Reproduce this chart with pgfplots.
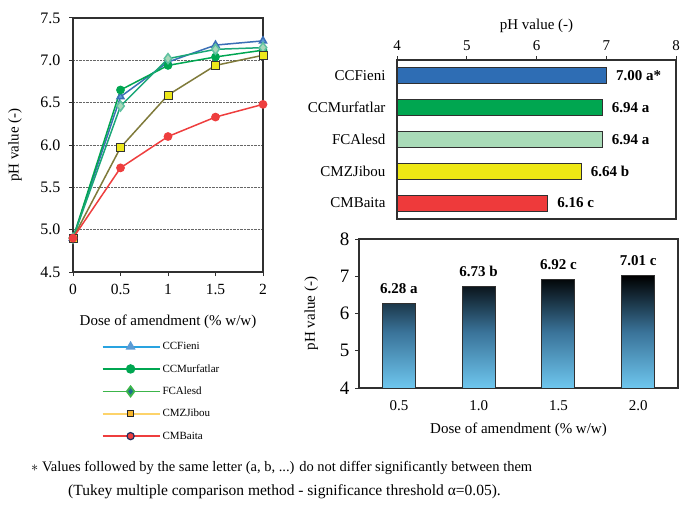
\documentclass[border=0pt]{standalone}
\usepackage{fontspec}
\setmainfont{Liberation Serif}
\usepackage{pgfplots}
\pgfplotsset{compat=1.18}
\usepackage{pgfplotstable}
\newcommand\fs[1]{\fontsize{#1}{#1}\selectfont}
\definecolor{fieni}{HTML}{3B6FB6}
\definecolor{fienim}{HTML}{5B9BD5}
\definecolor{murf}{HTML}{00A651}
\definecolor{alesdl}{HTML}{1AA777}
\definecolor{alesdm}{HTML}{A8D8B9}
\definecolor{jiboul}{HTML}{7F7A3A}
\definecolor{jiboum}{HTML}{EDE71A}
\definecolor{baita}{HTML}{EE3E3E}
\definecolor{legfieni}{HTML}{29A3E0}
\definecolor{legalesd}{HTML}{3CB54A}
\definecolor{legalesdm}{HTML}{1F6F8E}
\definecolor{legjibou}{HTML}{FDD36A}
\definecolor{legjiboum}{HTML}{F7B52A}
\definecolor{legbaitae}{HTML}{1F2F5F}
\definecolor{barblue}{HTML}{2E6DB4}
\definecolor{bargreen}{HTML}{00A650}
\definecolor{barlight}{HTML}{A9DBB8}
\definecolor{baryellow}{HTML}{EEE814}
\definecolor{barred}{HTML}{EE3A3B}
\definecolor{gradbottom}{HTML}{6EC6EE}
\definecolor{gradmid}{HTML}{3A7399}
\definecolor{frame}{HTML}{303030}

\pgfplotstableread[col sep=comma]{
x,ph,lab
0,6.28,6.28 a
1,6.73,6.73 b
2,6.92,6.92 c
3,7.01,7.01 c
}\dosetable

\begin{document}
\begin{tikzpicture}[x=1pt,y=1pt]
\useasboundingbox (0,0) rectangle (682,504);

% ---------------- left line chart ----------------
\begin{axis}[
  at={(73pt,232pt)}, anchor=south west, scale only axis,
  width=190pt, height=254pt,
  xmin=0, xmax=2, ymin=4.5, ymax=7.5,
  xtick={0,0.5,1,1.5,2}, xticklabels={0,0.5,1,1.5,2},
  ytick={4.5,5,5.5,6,6.5,7,7.5}, yticklabels={4.5,5.0,5.5,6.0,6.5,7.0,7.5},
  tick align=outside, tick pos=left, major tick length=4pt,
  ymajorgrids, grid style={densely dotted, black!60, line width=0.8pt},
  axis line style={line width=1.2pt, frame},
  tick style={line width=1pt, frame},
  xticklabel style={font=\fs{15.5}, yshift=-5pt},
  yticklabel style={font=\fs{16}, xshift=-5pt},
  /pgf/number format/assume math mode=true,
  xlabel={Dose of amendment (\% w/w)}, ylabel={pH value (-)},
  label style={font=\fs{15}},
  xlabel style={at={(axis description cs:0.5,-0.197)}, anchor=center},
  ylabel style={at={(axis description cs:-0.305,0.5)}, anchor=center},
  legend style={at={(0.15,-0.26)}, anchor=north west, draw=none, fill=none,
    font=\fs{11}, row sep=9.3pt, inner xsep=0pt, cells={anchor=west}},
  legend image code/.code={\draw[mark repeat=2,mark phase=2,#1] plot coordinates {(0pt,0pt) (28pt,0pt) (57pt,0pt)};},
  clip=false,
]
\addplot[forget plot, color=fieni, line width=1.5pt, mark=triangle*, mark size=4, mark options={fill=fienim, draw=fieni}]
  coordinates {(0,4.90) (0.5,6.57) (1,6.98) (1.5,7.18) (2,7.23)};
\addplot[forget plot, color=murf, line width=1.5pt, mark=*, mark size=3.6, mark options={fill=murf, draw=murf}]
  coordinates {(0,4.90) (0.5,6.65) (1,6.94) (1.5,7.04) (2,7.12)};
\addplot[forget plot, color=alesdl, line width=1.5pt, mark=diamond*, mark size=5, mark options={fill=alesdm, draw=alesdl!70}]
  coordinates {(0,4.90) (0.5,6.46) (1,7.02) (1.5,7.13) (2,7.15)};
\addplot[forget plot, color=jiboul, line width=1.5pt, mark=square*, mark size=4, mark options={fill=jiboum, draw=black!80, line width=1pt}]
  coordinates {(0,4.90) (0.5,5.97) (1,6.59) (1.5,6.94) (2,7.06)};
\addplot[forget plot, color=baita, line width=1.5pt, mark=*, mark size=3.6, mark options={fill=baita, draw=baita}]
  coordinates {(0,4.90) (0.5,5.73) (1,6.10) (1.5,6.33) (2,6.48)};

\addlegendimage{color=legfieni, line width=1.8pt, mark=triangle*, mark size=4, mark options={fill=fienim, draw=fienim}}
\addlegendentry{CCFieni}
\addlegendimage{color=murf, line width=1.8pt, mark=*, mark size=3.8, mark options={fill=murf, draw=murf}}
\addlegendentry{CCMurfatlar}
\addlegendimage{color=legalesd, line width=1.8pt, mark=diamond*, mark size=5, mark options={fill=legalesdm, draw=legalesd}}
\addlegendentry{FCAlesd}
\addlegendimage{color=legjibou, line width=1.8pt, mark=square*, mark size=3, mark options={fill=legjiboum, draw=black!85, line width=1pt}}
\addlegendentry{CMZJibou}
\addlegendimage{color=baita, line width=1.8pt, mark=*, mark size=3.6, mark options={fill=baita, draw=legbaitae, line width=1.2pt}}
\addlegendentry{CMBaita}
\end{axis}

% ---------------- top right horizontal bars ----------------
\begin{axis}[
  at={(397pt,285pt)}, anchor=south west, scale only axis,
  width=279pt, height=159pt,
  xbar, bar width=16pt, bar shift=0pt,
  xmin=4, xmax=8, ymin=-0.5, ymax=4.5,
  xtick={4,5,6,7,8}, xtick pos=right, xticklabel pos=right,
  ytick={0,1,2,3,4}, yticklabels={CMBaita,CMZJibou,FCAlesd,CCMurfatlar,CCFieni},
  ytick pos=left, ytick style={draw=none},
  minor ytick={-0.5,0.5,1.5,2.5,3.5,4.5}, minor tick length=4pt,
  tick align=outside, major tick length=4pt,
  axis line style={line width=1.2pt, frame},
  tick style={line width=1pt, frame},
  minor tick style={line width=1pt, frame},
  xticklabel style={font=\fs{15}, yshift=2pt},
  yticklabel style={font=\fs{15}, xshift=-4pt},
  /pgf/number format/assume math mode=true,
  xlabel={pH value (-)}, label style={font=\fs{15}},
  xlabel style={yshift=1pt},
  every node near coord/.append style={anchor=west, xshift=6pt, font=\bfseries\fs{15}, text=black},
  clip=true,
]
\addplot[fill=barblue, draw=frame, line width=1pt, nodes near coords={7.00 a*}] coordinates {(7.00,4)};
\addplot[fill=bargreen, draw=frame, line width=1pt, nodes near coords={6.94 a}] coordinates {(6.94,3)};
\addplot[fill=barlight, draw=frame, line width=1pt, nodes near coords={6.94 a}] coordinates {(6.94,2)};
\addplot[fill=baryellow, draw=frame, line width=1pt, nodes near coords={6.64 b}] coordinates {(6.64,1)};
\addplot[fill=barred, draw=frame, line width=1pt, nodes near coords={6.16 c}] coordinates {(6.16,0)};
\end{axis}

% ---------------- bottom right vertical bars ----------------
\begin{axis}[
  at={(359pt,116pt)}, anchor=south west, scale only axis,
  width=319pt, height=149pt,
  ybar, bar width=33pt, bar shift=0pt,
  xmin=-0.5, xmax=3.5, ymin=0, ymax=4,
  xtick={0,1,2,3}, xticklabels={0.5,1.0,1.5,2.0}, xtick pos=left, xtick style={draw=none},
  minor xtick={-0.5,0.5,1.5,2.5,3.5}, minor tick length=4pt,
  ytick={0,1,2,3,4}, yticklabels={4,5,6,7,8}, ytick pos=left,
  tick align=outside, major tick length=4pt,
  axis line style={line width=1.2pt, frame},
  tick style={line width=1pt, frame},
  minor tick style={line width=1pt, frame},
  xticklabel style={font=\fs{15}, yshift=-5pt},
  yticklabel style={font=\fs{19}, xshift=-2pt},
  /pgf/number format/assume math mode=true,
  xlabel={Dose of amendment (\% w/w)}, ylabel={pH value (-)},
  label style={font=\fs{15}},
  xlabel style={at={(axis description cs:0.5,-0.282)}, anchor=center},
  ylabel style={at={(axis description cs:-0.150,0.5)}, anchor=center},
  point meta=explicit symbolic,
  nodes near coords,
  every node near coord/.append style={anchor=south, yshift=6pt, font=\bfseries\fs{15}, text=black},
  clip=false,
]
\addplot[draw=frame, line width=1pt, top color=black, bottom color=gradbottom, middle color=gradmid]
  table[x=x, y expr=\thisrow{ph}-4, meta=lab] {\dosetable};
\end{axis}

% ---------------- footnote ----------------
\node[anchor=west, font=\fs{14.5}, inner sep=0pt] at (31,36) {$\ast$ Values followed by the same letter (a, b, ...) do not differ significantly between them};
\node[anchor=west, font=\fs{15.5}, inner sep=0pt] at (68,12) {(Tukey multiple comparison method - significance threshold α=0.05).};
\end{tikzpicture}
\end{document}
